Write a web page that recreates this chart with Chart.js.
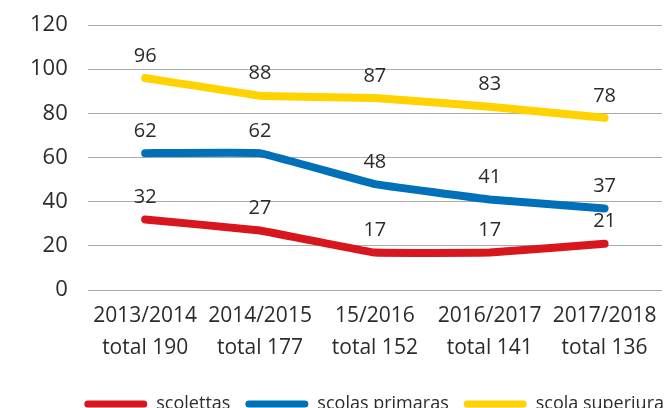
<!DOCTYPE html>
<html>
<head>
<meta charset="utf-8">
<script src="https://cdn.jsdelivr.net/npm/chart.js@4"></script>
<style>
  html, body { margin: 0; padding: 0; background: #fff; }
  #wrap { width: 668px; height: 408px; }
</style>
</head>
<body>
<div id="wrap"><canvas id="c" width="668" height="408"></canvas></div>
<script>
const categories = [
  ["2013/2014", "total 190"],
  ["2014/2015", "total 177"],
  ["15/2016", "total 152"],
  ["2016/2017", "total 141"],
  ["2017/2018", "total 136"]
];
const seriesNames = ["scolettas", "scolas primaras", "scola superiura"];
const scolettas = [32, 27, 17, 17, 21];
const scolasPrimaras = [62, 62, 48, 41, 37];
const scolaSuperiura = [96, 88, 87, 83, 78];
const yTicks = [0, 20, 40, 60, 80, 100, 120];

const colors = ["#d7161e", "#0070b8", "#ffd200"];
const FONT = "'Open Sans', sans-serif";
const TEXT = "#2b2b2b";

const valueLabels = {
  id: 'valueLabels',
  afterDatasetsDraw(chart) {
    const ctx = chart.ctx;
    ctx.save();
    ctx.font = "20px " + FONT;
    ctx.fillStyle = TEXT;
    ctx.textAlign = 'center';
    ctx.textBaseline = 'middle';
    chart.data.datasets.forEach((ds, i) => {
      const meta = chart.getDatasetMeta(i);
      meta.data.forEach((pt, j) => {
        ctx.fillText(String(ds.data[j]), pt.x, pt.y - 22);
      });
    });
    ctx.restore();
  }
};

const legendShift = {
  id: 'legendShift',
  afterLayout(chart) {
    if (chart.legend) {
      chart.legend.left += 17;
      chart.legend.right += 17;
    }
  }
};

const mk = (label, data, color) => ({
  label, data,
  borderColor: color,
  backgroundColor: color,
  borderWidth: 8,
  borderCapStyle: 'round',
  borderJoinStyle: 'round',
  pointRadius: 0,
  pointHoverRadius: 0,
  tension: 0.05,
  fill: false
});

new Chart(document.getElementById('c'), {
  type: 'line',
  data: {
    labels: categories,
    datasets: [
      mk(seriesNames[0], scolettas, colors[0]),
      mk(seriesNames[1], scolasPrimaras, colors[1]),
      mk(seriesNames[2], scolaSuperiura, colors[2])
    ]
  },
  plugins: [valueLabels, legendShift],
  options: {
    responsive: false,
    animation: false,
    devicePixelRatio: 1,
    layout: { padding: { top: 25, right: 6, left: 10, bottom: -15 } },
    plugins: {
      tooltip: { enabled: false },
      legend: {
        position: 'bottom',
        align: 'end',
        labels: {
          font: { family: FONT, size: 18 },
          color: TEXT,
          boxWidth: 63,
          boxHeight: 7,
          useBorderRadius: true,
          borderRadius: 3.5,
          padding: 15,
          generateLabels(chart) {
            return chart.data.datasets.map((ds, i) => ({
              text: ds.label,
              fillStyle: ds.borderColor,
              strokeStyle: ds.borderColor,
              lineWidth: 0,
              borderRadius: 3.5,
              hidden: false,
              datasetIndex: i,
              fontColor: TEXT
            }));
          }
        }
      }
    },
    scales: {
      x: {
        offset: true,
        grid: { display: false, drawTicks: false },
        border: { display: false },
        afterFit(scale) { scale.height += 6; },
        ticks: {
          font: { family: FONT, size: 21, lineHeight: 1.52 },
          color: TEXT,
          padding: 10,
          maxRotation: 0,
          autoSkip: false
        }
      },
      y: {
        min: 0,
        max: 120,
        afterBuildTicks(scale) { scale.ticks = yTicks.map(v => ({ value: v })); },
        afterFit(scale) { scale.paddingTop = 0; scale.paddingBottom = 0; },
        grid: { color: '#ababab', lineWidth: 1, drawTicks: false },
        border: { display: false },
        ticks: {
          font: { family: FONT, size: 22 },
          color: TEXT,
          padding: 20
        }
      }
    }
  }
});
</script>
</body>
</html>
